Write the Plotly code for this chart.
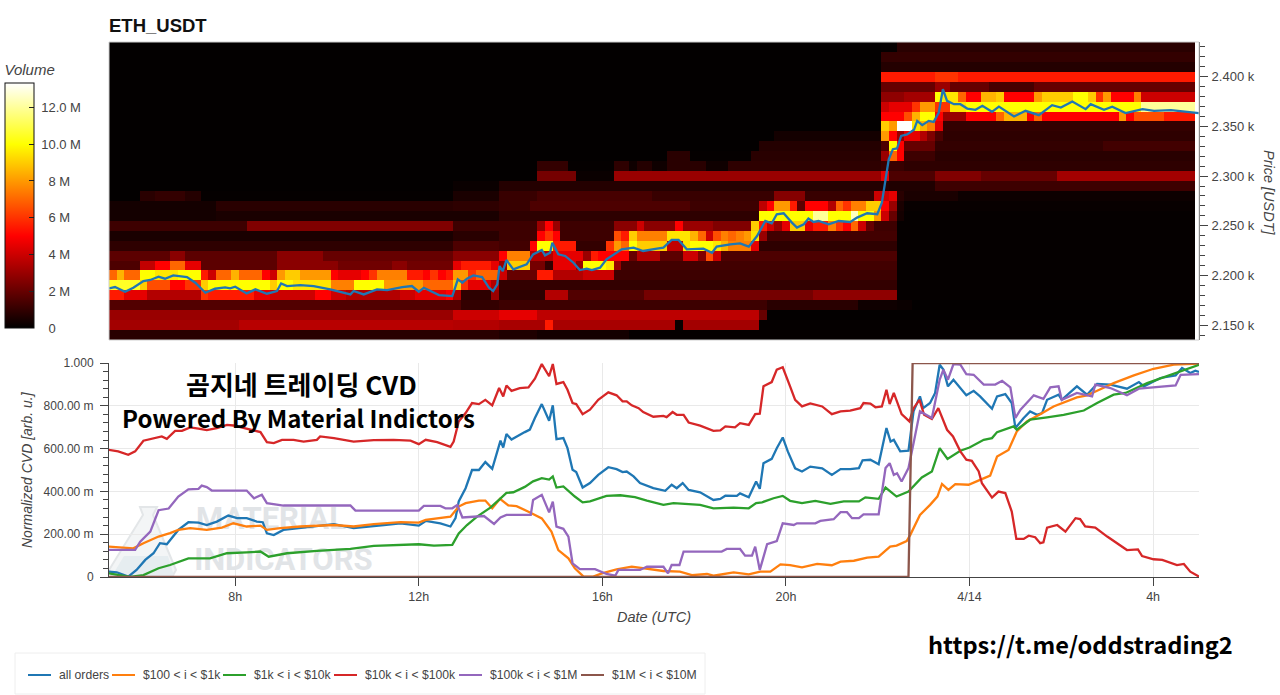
import plotly.graph_objects as go

W, H = 1280, 695

# cells are 10 minutes wide and 10 USDT tall
n_cols = 142
col_start = 5.25
prices = list(range(2430, 2130, -10))

# volume in millions, per price level, as (first column, value) runs
vol_2430 = [(101, .1), (103, .8)]
vol_2420 = [(101, 1.0)]
vol_2410 = [(101, .7)]
vol_2400 = [(101, 5.5), (108, 6), (111, 5.5)]
vol_2390 = [(101, 2), (108, 3), (110, 2), (115, 1.4), (121, 2)]
vol_2380 = [(101, 2.8), (104, 3.2), (108, 10), (109, 9.5), (111, 7), (112, 5), (114, 8.5), (116, 9), (117, 5), (121, 8),
            (122, 9), (126, 10), (128, 9), (129, 6), (130, 8), (131, 5), (134, 7.5), (135, 4)]
vol_2370 = [(101, 4), (102, 4.5), (105, 6), (106, 8), (108, 6), (110, 9.5), (112, 10), (135, 12)]
vol_2360 = [(101, 5), (104, 6.5), (105, 8.5), (106, 10), (108, 5), (109, 3), (112, 5), (116, 7), (117, 8.5), (120, 5),
            (121, 7), (122, 5), (132, 8), (133, 5), (134, 6.5), (138, 5.5)]
vol_2350 = [(101, 9), (102, 8), (103, 13.3), (105, 9.5), (106, 8.5), (107, 7.5), (108, 4.5), (109, 1)]
vol_2340 = [(87, .4), (101, 8), (102, 5), (103, 3), (104, 4.5), (106, 3.5), (107, 2.5), (108, 1.5), (109, .9)]
vol_2330 = [(85, .7), (101, 1.5), (102, 10), (103, 5), (104, 2), (108, 1), (130, 1.3)]
vol_2320 = [(73, .8), (76, .1), (84, .8), (101, 3), (102, 7), (103, 5), (104, 1.2), (108, .8)]
vol_2310 = [(56, 1), (60, .1), (66, .9), (68, .3), (69, .7), (71, .3), (73, .8), (78, .3), (81, .9), (101, 1.1), (104, .9)]
vol_2300 = [(56, 2.3), (61, .2), (66, 3), (101, 4.5), (102, 1.5), (108, 2.5), (114, 2), (124, 3.2)]
vol_2290 = [(45, .2), (51, .7), (102, .6), (108, 1.2)]
vol_2280 = [(4, .8), (6, 1), (10, .7), (12, .1), (45, .5), (51, 1.1), (56, 1.4), (71, 1.1), (87, 2.6), (91, 1.1), (100, 4),
            (102, 4.5), (103, .8), (104, .5), (111, .25)]
vol_2270 = [(0, .4), (14, .8), (45, .9), (51, 1.1), (55, 1.5), (76, 1.2), (85, 3.7), (86, 5), (87, 8), (89, 5.5), (90, 1.8),
            (91, 5), (94, 3.5), (95, 7), (96, 6), (97, 7.5), (99, 9), (101, 5), (102, 3), (103, .5), (104, .15)]
vol_2260 = [(0, .4), (14, .5), (51, .9), (85, 10), (92, 12), (94, 10), (97, 12.5), (98, 10), (100, 8), (101, 4), (102, 2),
            (103, .4), (104, .1)]
vol_2250 = [(0, 1.2), (18, 2.5), (45, 1.2), (56, 3), (57, 5), (58, 3), (59, 1.2), (66, 2.7), (69, 4), (70, 2.7), (74, 5),
            (75, 3), (79, 2.5), (84, 9), (85, 5.5), (86, 4), (87, 3), (88, 4.5), (89, 9), (91, 4.5), (92, 5.5), (94, 7.5),
            (95, 6), (96, 5), (97, 7), (98, 4), (99, 2), (100, 1.2), (103, .1)]
vol_2240 = [(0, .5), (45, .8), (51, 1.2), (56, 5), (57, 6), (58, 5), (59, 1.2), (66, 6.5), (67, 5.5), (68, 9), (69, 7.5),
            (73, 9.5), (76, 8.5), (77, 7), (78, 4), (79, 6.5), (80, 7.5), (81, 7), (82, 7.5), (83, 8), (84, 9.5), (85, 3),
            (86, 1.3), (103, .1)]
vol_2230 = [(0, .9), (45, 1.5), (51, 1.3), (55, 5), (56, 10), (58, 5.5), (61, 1), (65, 6), (66, 8), (67, 7), (68, 10),
            (69, 9), (73, 3.8), (75, 9.5), (76, 10), (79, 9.5), (80, 8.5), (81, 7.5), (84, 4.5), (85, .9), (103, .1)]
vol_2220 = [(0, 1.8), (8, 2.7), (10, 1.8), (22, 2.7), (28, 2), (45, 2.7), (51, 5), (52, 7.5), (55, 3.5), (58, 4.5), (62, 3),
            (63, 5.5), (64, 5), (68, 2), (69, 3.5), (72, 1.8), (75, 4), (77, 2.5), (78, 6.5), (79, 4), (80, 1.5), (103, .1)]
vol_2210 = [(0, 1.5), (4, 3.8), (6, 5), (8, 7), (10, 4.5), (12, 1.8), (22, 2.7), (30, 2.2), (37, 2.7), (39, 2.2), (45, 4.5),
            (46, 5.5), (50, 4.5), (51, 3), (52, 9), (55, 2.3), (57, 1), (58, 4.5), (61, 3), (62, 10), (65, 9.5), (66, 3),
            (67, 1.3), (103, .1)]
vol_2200 = [(0, 7), (1, 8.5), (2, 7), (4, 10), (6, 9.5), (9, 10), (12, 5.5), (13, 4), (14, 7), (16, 8.5), (17, 7), (20, 5),
            (21, 4), (22, 8), (23, 9), (25, 8), (29, 5), (30, 4.5), (33, 5), (34, 6), (35, 7.5), (39, 5.5), (41, 5), (42, 6),
            (43, 5), (44, 5.5), (45, 8), (47, 6), (48, 7), (51, 4), (52, 2), (56, 5.5), (58, 3.5), (62, 4), (66, 1.2), (103, .1)]
vol_2190 = [(0, 10.5), (4, 9), (5, 6.5), (8, 5), (10, 6), (12, 9), (13, 10), (21, 9), (22, 10), (24, 9.5), (29, 7.5),
            (32, 10), (36, 8), (41, 7), (45, 9), (46, 6), (47, 4.5), (50, 3.5), (51, 1), (103, .1)]
vol_2180 = [(0, 5.5), (2, 4.5), (5, 3.5), (12, 6), (13, 5.5), (19, 4.5), (21, 4), (27, 5), (29, 4), (31, 3.5), (38, 4),
            (40, 4.5), (44, 5), (45, 3.5), (46, .9), (50, 3), (51, .9), (57, 3.5), (60, 1.6), (70, 2.3), (92, 2.8), (103, .1)]
vol_2170 = [(0, 1.6), (46, 1), (51, 1.2), (86, .8), (98, .3), (103, .2), (105, .05)]
vol_2160 = [(0, 3), (45, 4), (51, 4.5), (56, 3.7), (85, 2), (86, .05)]
vol_2150 = [(0, 3.2), (17, 3.6), (45, 3.5), (51, 3.3), (57, 5.5), (58, 3.3), (74, .2), (75, 3.2), (85, .1)]
vol_2140 = [(0, .8), (51, .6), (56, .4), (68, .1)]

volume_rows = [vol_2430, vol_2420, vol_2410, vol_2400, vol_2390, vol_2380, vol_2370, vol_2360, vol_2350, vol_2340,
               vol_2330, vol_2320, vol_2310, vol_2300, vol_2290, vol_2280, vol_2270, vol_2260, vol_2250, vol_2240,
               vol_2230, vol_2220, vol_2210, vol_2200, vol_2190, vol_2180, vol_2170, vol_2160, vol_2150, vol_2140]

# hours counted from 00:00 of the first day, so 24 is 4/14
price_h = [5.25, 5.38, 5.60, 5.78, 6.00, 6.15, 6.33, 6.47, 6.65, 6.95, 7.13, 7.35, 7.56, 7.78, 7.89, 8.00, 8.25, 8.44, 8.69,
           8.91, 9.00, 9.13, 9.42, 9.71, 10.07, 10.36, 10.51, 10.58, 10.80, 11.09, 11.31, 11.64, 11.85, 12.00, 12.11, 12.44,
           12.73, 12.78, 12.85, 12.95, 13.05, 13.19, 13.38, 13.53, 13.62, 13.71, 13.76, 13.83, 13.91, 14.06, 14.35, 14.49,
           14.68, 14.75, 14.86, 14.91, 15.04, 15.19, 15.37, 15.51, 15.66, 15.77, 15.95, 16.09, 16.24, 16.42, 16.68, 16.89,
           17.19, 17.33, 17.51, 17.66, 17.84, 18.20, 18.39, 18.49, 18.79, 19.00, 19.19, 19.37, 19.55, 19.69, 19.80, 19.95,
           20.13, 20.24, 20.39, 20.49, 20.60, 20.71, 20.93, 21.15, 21.40, 21.55, 21.77, 21.99, 22.09, 22.24, 22.33, 22.42,
           22.51, 22.64, 22.79, 22.86, 22.97, 23.11, 23.22, 23.33, 23.42, 23.51, 23.66, 23.80, 23.95, 24.13, 24.28, 24.49,
           24.64, 24.97, 25.22, 25.51, 25.80, 25.99, 26.24, 26.53, 26.64, 26.93, 27.11, 27.40, 27.77, 28.02, 28.39, 28.93, 29.00]
price_v = [2187, 2188.3, 2183.6, 2187.6, 2194.4, 2195.4, 2198.7, 2196.7, 2200.1, 2198.4, 2192.7, 2182.6, 2186.6, 2188, 2187,
           2188.6, 2181.9, 2186, 2181.6, 2184.3, 2192, 2189.3, 2190.3, 2189.3, 2186, 2182.6, 2180.9, 2184.3, 2180.9, 2186,
           2185.3, 2188.3, 2189.3, 2183.6, 2187.6, 2180.2, 2179.2, 2186, 2196, 2192.7, 2196.7, 2200, 2198.4, 2187.6, 2184.3,
           2191, 2209.5, 2204.4, 2215.5, 2206.1, 2211.2, 2221.2, 2225.6, 2220.2, 2222.9, 2233, 2221.2, 2219.6, 2212.8, 2205.4,
           2206.8, 2205.4, 2207.8, 2216.2, 2221.2, 2226.3, 2228, 2224.6, 2227, 2228, 2235.7, 2235.7, 2226.3, 2227, 2222.9,
           2229, 2231.3, 2232.3, 2229, 2239.7, 2254.8, 2252.5, 2261.6, 2262.6, 2253.2, 2248.1, 2251.5, 2257.2, 2253.8, 2254.8,
           2251.5, 2254.8, 2253.8, 2258.2, 2262.6, 2261.6, 2273.3, 2317, 2327.1, 2327.8, 2340.5, 2342, 2346.6, 2355.6, 2351.3,
           2355.6, 2354.6, 2364, 2387.6, 2375.8, 2372.4, 2372.4, 2368, 2366.7, 2370.8, 2364.7, 2370, 2360, 2365.7, 2361.3,
           2371.4, 2369, 2375, 2367.4, 2372.4, 2366.7, 2369.8, 2363.4, 2367.4, 2365.7, 2366.4, 2364, 2363.4]

all_h = [5.24, 5.42, 5.67, 5.85, 6.04, 6.22, 6.36, 6.51, 6.76, 6.98, 7.20, 7.38, 7.60, 7.85, 8.04, 8.25, 8.47, 8.60, 8.69,
         8.84, 9.05, 9.42, 9.78, 10.15, 10.58, 10.87, 11.24, 11.60, 12.00, 12.15, 12.47, 12.69, 12.80, 12.87, 13.02, 13.16,
         13.31, 13.45, 13.60, 13.78, 13.84, 13.91, 14.02, 14.31, 14.42, 14.53, 14.68, 14.84, 14.92, 15.00, 15.15, 15.24,
         15.35, 15.43, 15.57, 15.73, 15.91, 16.13, 16.31, 16.44, 16.53, 16.68, 16.82, 17.11, 17.37, 17.51, 17.62, 17.75,
         17.88, 18.13, 18.42, 18.57, 18.68, 18.93, 19.00, 19.19, 19.35, 19.43, 19.51, 19.69, 19.80, 19.93, 20.04, 20.20,
         20.35, 20.53, 20.79, 21.00, 21.19, 21.40, 21.59, 21.67, 21.84, 22.02, 22.19, 22.28, 22.35, 22.49, 22.67, 22.78,
         22.92, 22.99, 23.14, 23.25, 23.35, 23.43, 23.53, 23.65, 23.80, 23.93, 24.09, 24.23, 24.49, 24.60, 24.78, 24.92,
         25.00, 25.18, 25.32, 25.47, 25.58, 25.69, 25.94, 26.01, 26.34, 26.56, 26.78, 27.07, 27.43, 27.69, 27.80, 28.16,
         28.49, 28.63, 28.81, 28.92, 29.00]
all_v = [.025, .022, .002, .033, .080, .111, .158, .153, .220, .256, .254, .243, .259, .287, .275, .275, .259, .256, .204,
         .196, .220, .228, .236, .247, .228, .236, .243, .251, .240, .262, .251, .236, .275, .353, .415, .500, .500, .537,
         .505, .637, .605, .668, .642, .677, .689, .743, .808, .730, .802, .644, .649, .602, .501, .490, .418, .439, .477,
         .513, .504, .490, .493, .470, .439, .415, .403, .431, .415, .439, .407, .396, .360, .365, .380, .379, .391, .373,
         .446, .412, .532, .552, .602, .652, .587, .508, .493, .516, .508, .477, .504, .504, .509, .545, .548, .527, .696,
         .633, .641, .587, .590, .774, .844, .789, .813, .860, .992, .969, .891, .922, .883, .849, .870, .844, .786, .844,
         .855, .813, .696, .743, .774, .758, .766, .828, .852, .828, .891, .852, .902, .899, .880, .911, .891, .930, .942,
         .977, .953, .964, .958]

orange_h = [5.24, 5.78, 6.00, 6.33, 6.58, 6.76, 7.02, 7.38, 7.71, 7.96, 8.25, 8.55, 8.69, 8.98, 9.42, 10.15, 10.58, 11.02,
            11.60, 12.00, 12.15, 12.69, 12.87, 13.02, 13.31, 13.45, 13.60, 13.77, 13.95, 14.13, 14.39, 14.68, 14.89, 15.04,
            15.26, 15.40, 15.59, 15.80, 15.99, 16.31, 16.64, 16.89, 17.33, 17.69, 17.95, 18.28, 18.42, 18.86, 19.19, 19.44,
            19.66, 19.88, 20.09, 20.35, 20.68, 21.00, 21.19, 21.48, 21.77, 22.02, 22.17, 22.27, 22.41, 22.63, 22.71, 22.92,
            23.14, 23.30, 23.40, 23.54, 23.69, 23.98, 24.23, 24.45, 24.60, 24.85, 25.03, 25.25, 25.54, 25.83, 26.34, 26.56,
            26.78, 27.14, 27.58, 28.01, 28.45, 29.00]
orange_v = [.142, .134, .158, .189, .205, .220, .228, .220, .231, .251, .236, .240, .220, .228, .236, .243, .236, .247,
            .256, .254, .267, .282, .329, .345, .357, .357, .321, .365, .335, .331, .305, .274, .212, .126, .087, .041, .002,
            .002, .017, .036, .048, .041, .028, .025, .009, .014, .006, .022, .012, .025, .025, .059, .056, .045, .061, .055,
            .072, .076, .091, .095, .126, .142, .147, .168, .197, .290, .337, .376, .435, .407, .434, .431, .454, .474, .563,
            .594, .680, .727, .761, .797, .839, .849, .870, .906, .942, .973, .992, .997]

green_h = [5.24, 5.49, 5.71, 6.00, 6.33, 6.58, 6.98, 7.45, 7.82, 8.25, 8.55, 8.73, 9.13, 9.78, 10.51, 11.02, 11.60, 12.00,
           12.33, 12.73, 12.87, 13.05, 13.27, 13.56, 13.77, 13.91, 14.06, 14.31, 14.49, 14.68, 14.84, 14.92, 15.00, 15.15,
           15.40, 15.57, 15.73, 15.88, 16.09, 16.39, 16.71, 16.97, 17.33, 17.55, 17.84, 18.13, 18.42, 18.86, 19.19, 19.35,
           19.48, 19.73, 19.93, 20.09, 20.35, 20.64, 20.97, 21.26, 21.59, 21.73, 22.02, 22.17, 22.41, 22.67, 22.96, 23.18,
           23.35, 23.52, 23.80, 24.00, 24.31, 24.49, 24.60, 24.96, 25.03, 25.32, 25.69, 26.05, 26.49, 26.78, 27.14, 27.40,
           27.87, 28.38, 29.00]
green_v = [.017, .009, .000, .009, .041, .056, .087, .087, .111, .115, .119, .095, .111, .122, .131, .145, .150, .153, .147,
           .150, .204, .243, .282, .324, .365, .393, .396, .421, .447, .462, .455, .470, .418, .423, .376, .349, .353, .365,
           .379, .382, .373, .357, .337, .345, .340, .337, .321, .324, .321, .345, .349, .368, .379, .356, .345, .356, .342,
           .353, .353, .372, .365, .418, .376, .399, .465, .493, .602, .552, .590, .605, .641, .649, .677, .704, .688, .735,
           .746, .758, .778, .813, .852, .860, .906, .945, .992]

red_h = [5.24, 5.45, 5.67, 5.82, 6.00, 6.22, 6.40, 6.51, 6.69, 6.84, 7.02, 7.20, 7.38, 7.60, 7.82, 7.96, 8.25, 8.55, 8.69,
         8.84, 9.02, 9.27, 9.49, 9.78, 9.85, 10.15, 10.58, 11.02, 11.45, 11.82, 12.00, 12.15, 12.40, 12.69, 12.76, 12.87,
         13.02, 13.16, 13.31, 13.45, 13.60, 13.75, 13.84, 13.91, 14.02, 14.20, 14.39, 14.53, 14.68, 14.84, 14.92, 15.00,
         15.15, 15.24, 15.35, 15.43, 15.57, 15.73, 15.91, 16.13, 16.31, 16.44, 16.53, 16.64, 16.79, 16.89, 17.11, 17.33,
         17.40, 17.53, 17.62, 17.77, 17.88, 18.13, 18.42, 18.57, 18.68, 18.89, 19.00, 19.19, 19.33, 19.43, 19.51, 19.69,
         19.80, 19.93, 20.09, 20.20, 20.35, 20.53, 20.79, 21.00, 21.19, 21.40, 21.62, 21.69, 21.84, 21.95, 22.09, 22.19,
         22.26, 22.35, 22.52, 22.69, 22.78, 22.91, 23.01, 23.18, 23.32, 23.51, 23.64, 23.80, 23.93, 24.05, 24.20, 24.27,
         24.49, 24.63, 24.78, 24.92, 25.02, 25.18, 25.29, 25.43, 25.54, 25.61, 25.69, 25.91, 26.09, 26.31, 26.41, 26.52,
         26.74, 27.00, 27.43, 27.67, 27.76, 28.01, 28.20, 28.52, 28.67, 28.81, 29.00]
red_v = [.594, .587, .571, .587, .637, .649, .657, .646, .683, .683, .699, .693, .686, .696, .711, .708, .693, .677, .630,
         .626, .641, .641, .633, .641, .657, .649, .633, .640, .641, .637, .621, .641, .630, .608, .633, .727, .766, .813,
         .808, .828, .802, .883, .844, .895, .870, .883, .886, .927, .995, .938, .995, .902, .911, .875, .813, .808, .761,
         .782, .828, .863, .849, .821, .821, .802, .789, .771, .749, .753, .747, .771, .758, .758, .722, .707, .683, .685,
         .704, .699, .719, .711, .761, .763, .891, .911, .969, .980, .891, .828, .797, .811, .797, .761, .774, .777, .789,
         .813, .810, .793, .797, .875, .808, .860, .761, .727, .789, .828, .758, .738, .789, .688, .657, .587, .548, .543,
         .493, .438, .371, .399, .392, .306, .178, .178, .193, .186, .158, .162, .231, .243, .212, .275, .271, .236, .231,
         .189, .126, .129, .098, .083, .080, .056, .061, .025, .002]

purple_h = [5.24, 5.82, 5.93, 6.15, 6.33, 6.55, 6.76, 6.98, 7.20, 7.27, 7.38, 7.49, 8.25, 8.41, 8.58, 8.69, 9.05, 10.51, 10.62,
            12.00, 12.11, 12.47, 12.58, 12.73, 12.84, 12.95, 13.42, 13.64, 13.78, 13.91, 14.44, 14.49, 14.68, 14.84, 14.92,
            15.00, 15.15, 15.26, 15.35, 15.51, 15.84, 16.09, 16.28, 16.35, 16.82, 16.97, 17.33, 17.43, 17.51, 17.68, 17.77,
            18.60, 18.71, 19.00, 19.11, 19.26, 19.33, 19.43, 19.59, 19.80, 19.93, 20.17, 20.24, 20.64, 20.75, 21.04, 21.19,
            21.33, 21.44, 21.59, 21.69, 22.02, 22.17, 22.26, 22.35, 22.42, 22.52, 22.67, 22.81, 22.92, 23.18, 23.35, 23.43,
            23.53, 23.65, 23.80, 23.93, 24.09, 24.31, 24.56, 24.71, 24.89, 25.00, 25.11, 25.40, 25.61, 25.76, 25.94, 26.01,
            26.34, 26.67, 26.74, 27.07, 27.43, 27.69, 28.49, 28.60, 28.92, 29.00]
purple_v = [.127, .127, .165, .212, .312, .320, .376, .410, .412, .427, .420, .404, .404, .368, .384, .345, .334, .334, .310,
            .310, .332, .332, .321, .321, .337, .278, .285, .248, .278, .290, .290, .360, .384, .302, .352, .235, .225, .189,
            .064, .037, .037, .014, .006, .033, .033, .048, .048, .017, .056, .056, .119, .119, .131, .131, .100, .100, .142,
            .033, .153, .168, .251, .243, .251, .251, .262, .270, .303, .303, .275, .275, .293, .293, .509, .532, .477, .485,
            .446, .509, .657, .774, .743, .922, .969, .922, .995, .992, .948, .945, .899, .899, .917, .886, .743, .782, .849,
            .833, .886, .891, .828, .860, .844, .899, .883, .849, .880, .895, .945, .948, .948]

brown_h = [5.25, 22.67, 22.76, 29.00]
brown_v = [0, 0, 1, 1]

series_names = ['all orders', '$100 < i < $1k', '$1k < i < $10k', '$10k < i < $100k', '$100k < i < $1M', '$1M < i < $10M']
series_colors = ['#1f77b4', '#ff7f0e', '#2ca02c', '#d62728', '#9467bd', '#8c564b']

hour_ticks = [8, 12, 16, 20, 24, 28]
hour_labels = ['8h', '12h', '16h', '20h', '4/14', '4h']
price_ticks = [2150, 2200, 2250, 2300, 2350, 2400]
price_labels = ['2.150 k', '2.200 k', '2.250 k', '2.300 k', '2.350 k', '2.400 k']
cvd_ticks = [0, .2, .4, .6, .8, 1]
cvd_labels = ['0', '200.00 m', '400.00 m', '600.00 m', '800.00 m', '1.000']
bar_ticks = [0, 2, 4, 6, 8, 10, 12]
bar_labels = ['\u00a0\u00a0\u00a00', '\u00a0\u00a0\u00a02 M', '\u00a0\u00a0\u00a04 M', '\u00a0\u00a0\u00a06 M',
              '\u00a0\u00a0\u00a08 M', '\u00a010.0 M', '\u00a012.0 M']

FONT = 'Liberation Sans'
TEXT = '#444444'


def px(x, y):
    return f'{x / W:.5f},{1 - y / H:.5f}'


def expand(runs):
    row = [0.05] * n_cols
    for (start, value), nxt in zip(runs, runs[1:] + [(n_cols, 0)]):
        row[start:nxt[0]] = [value] * (nxt[0] - start)
    return row


hours = [col_start + (c + .5) / 6 for c in range(n_cols)]
fig = go.Figure()

fig.add_trace(go.Heatmap(
    x=hours, y=prices, z=[expand(r) for r in volume_rows], zmin=0, zmax=13.33, xaxis='x', yaxis='y',
    colorscale=[[0, '#000000'], [.375, '#ff0000'], [.75, '#ffff00'], [1, '#ffffff']],
    colorbar=dict(
        thickness=29, thicknessmode='pixels', len=267, lenmode='pixels', x=5 / W, xanchor='left',
        y=(H - 328) / H, yanchor='bottom', xpad=0, ypad=0, outlinecolor='#111111', outlinewidth=1,
        tickmode='array', tickvals=bar_ticks, ticktext=bar_labels, ticks='inside', ticklen=5, tickcolor='#222222',
        tickfont=dict(family=FONT, size=13, color=TEXT),
        title=dict(text='<i>Volume</i>', side='top', font=dict(family=FONT, size=15, color=TEXT)),
    ),
))
fig.add_trace(go.Scatter(x=price_h, y=price_v, mode='lines', line=dict(color='#1f77b4', width=2.3), xaxis='x', yaxis='y',
                         showlegend=False))

# watermark goes first so the lines run over it
fig.add_trace(go.Scatter(x=[8.78, 9.05], y=[.26, .07], mode='text', text=['MATERIAL', 'INDICATORS'], xaxis='x2', yaxis='y2',
                         textfont=dict(family='Roboto', size=31, color='#e1e4e7', weight=700), showlegend=False))

series = [(all_h, all_v), (orange_h, orange_v), (green_h, green_v), (red_h, red_v), (purple_h, purple_v), (brown_h, brown_v)]
for (sx, sy), name, color in zip(series, series_names, series_colors):
    fig.add_trace(go.Scatter(x=sx, y=sy, mode='lines', name=name, line=dict(color=color, width=2.3), xaxis='x2', yaxis='y2',
                             showlegend=False))

shapes = [
    # flask of the watermark
    dict(type='path', xref='paper', yref='paper', layer='below', fillcolor='#f3f5f6', line=dict(color='#e3e6e8', width=2),
         path=f'M {px(140, 507)} L {px(157, 507)} L {px(153, 515)} L {px(176, 570)} L {px(172, 577)} L {px(112, 577)} '
              f'L {px(109, 570)} L {px(143, 515)} Z'),
    dict(type='path', xref='paper', yref='paper', layer='below', fillcolor='#e6edf0', line=dict(width=0),
         path=f'M {px(124, 556)} L {px(168, 556)} L {px(174, 576)} L {px(112, 576)} Z'),
    # outline of the heatmap panel
    dict(type='rect', xref='paper', yref='paper', x0=109 / W, x1=1199 / W, y0=1 - 340 / H, y1=1 - 42 / H,
         line=dict(color='#cfcfcf', width=1)),
    # legend box
    dict(type='rect', xref='paper', yref='paper', x0=15 / W, x1=705 / W, y0=1 - 694 / H, y1=1 - 653 / H,
         line=dict(color='#eeeeee', width=1)),
]
annotations = [
    dict(x=301 / W, y=1 - 383 / H, text='곰지네 트레이딩 CVD',
         font=dict(family='Noto Sans CJK KR', size=26, color='black', weight=700)),
    dict(x=298 / W, y=1 - 417 / H, text='Powered By Material Indictors',
         font=dict(family='Noto Sans CJK KR', size=24, color='black', weight=700)),
    dict(x=1080 / W, y=1 - 644 / H, text='https://t.me/oddstrading2',
         font=dict(family='Noto Sans CJK KR', size=23.6, color='black', weight=700)),
    dict(x=1269 / W, y=1 - 193 / H, text='<i>Price [USDT]</i>', textangle=90,
         font=dict(family=FONT, size=14.5, color=TEXT)),
    dict(x=27 / W, y=1 - 470 / H, text='<i>Normalized CVD [arb. u.]</i>', textangle=-90,
         font=dict(family=FONT, size=14, color=TEXT)),
    dict(x=654 / W, y=1 - 617 / H, text='<i>Date (UTC)</i>',
         font=dict(family=FONT, size=14.5, color=TEXT)),
]

legend_lines = [28, 112, 223, 334, 459, 581]
legend_texts = [57, 141, 252, 363, 488, 610]
for x_line, x_text, name, color in zip(legend_lines, legend_texts, series_names, series_colors):
    shapes.append(dict(type='line', xref='paper', yref='paper', x0=x_line / W, x1=(x_line + 23) / W, y0=1 - 675 / H,
                       y1=1 - 675 / H, line=dict(color=color, width=2)))
    annotations.append(dict(x=x_text / W, y=1 - 675 / H, text=name, xanchor='left',
                            font=dict(family=FONT, size=12.2, color=TEXT)))
for a in annotations:
    a.setdefault('xanchor', 'center')
    a.update(xref='paper', yref='paper', showarrow=False, yanchor='middle')

x_domain = [109 / W, 1199 / W]
fig.update_layout(
    template='none',
    width=W, height=H, margin=dict(l=0, r=0, t=0, b=0), paper_bgcolor='white', plot_bgcolor='white', showlegend=False,
    title=dict(text='<b>ETH_USDT</b>', x=109 / W, xanchor='left', y=1 - 26 / H, yanchor='middle',
               font=dict(family=FONT, size=18.5, color='#111111')),
    shapes=shapes, annotations=annotations,
    xaxis=dict(domain=x_domain, range=[5.25, 29], anchor='y', showticklabels=False, ticks='', showgrid=False, zeroline=False),
    yaxis=dict(domain=[1 - 340 / H, 1 - 42 / H], range=[2135, 2435], anchor='x', side='right', showgrid=False, zeroline=False,
               showline=True, linecolor='#444444', tickmode='array', tickvals=price_ticks, ticktext=price_labels,
               ticks='outside', ticklen=8, tickcolor='#444444', ticklabelstandoff=1,
               tickfont=dict(family=FONT, size=13, color=TEXT),
               minor=dict(dtick=10, tick0=2150, ticks='outside', ticklen=5, tickcolor='#444444')),
    xaxis2=dict(domain=x_domain, range=[5.25, 29], anchor='y2', showline=True, linecolor='#444444', zeroline=False,
                showgrid=True, gridcolor='#e9e9e9', tickmode='array', tickvals=hour_ticks, ticktext=hour_labels,
                ticks='outside', ticklen=8, tickcolor='#444444', tickfont=dict(family=FONT, size=12.5, color=TEXT)),
    yaxis2=dict(domain=[1 - 577 / H, 1 - 363 / H], range=[0, 1], anchor='x2', showline=True, linecolor='#444444',
                zeroline=False, showgrid=True, gridcolor='#e9e9e9', tickmode='array', tickvals=cvd_ticks,
                ticktext=cvd_labels, ticks='outside', ticklen=8, tickcolor='#444444', ticklabelstandoff=4,
                tickfont=dict(family=FONT, size=12, color=TEXT),
                minor=dict(dtick=.04, tick0=0, ticks='outside', ticklen=5, tickcolor='#444444')),
)

fig.write_html('out.html', post_script="document.body.style.margin='0';", config={'displayModeBar': False})
